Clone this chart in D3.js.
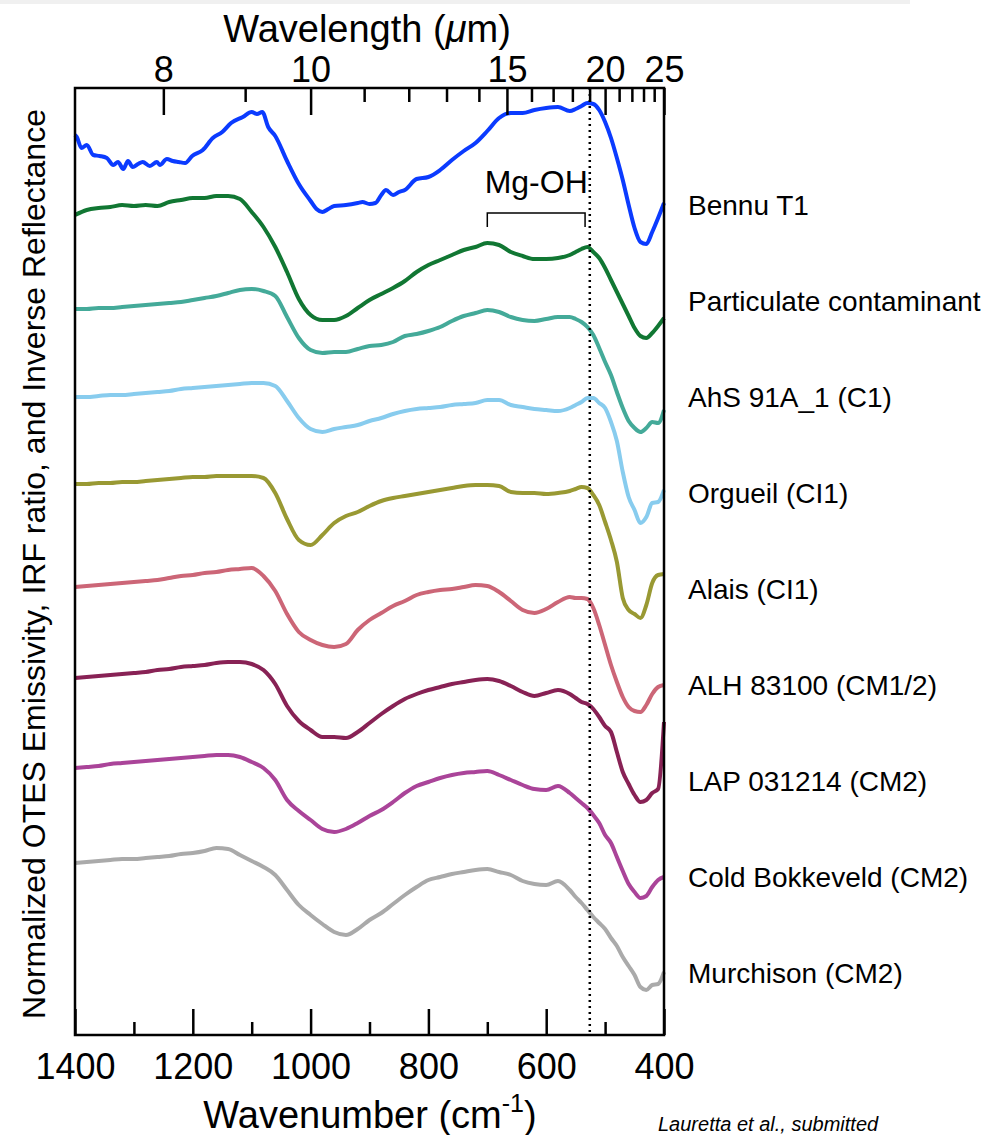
<!DOCTYPE html>
<html>
<head>
<meta charset="utf-8">
<script src="https://cdn.jsdelivr.net/npm/d3@7"></script>
<style>
  body { margin: 0; background: #fff; }
  text { font-family: "Liberation Sans", Arial, Helvetica, sans-serif; fill: #000; }
</style>
</head>
<body>
<div id="chart"></div>
<script>
// wavenumber sample points (cm-1) for the lab spectra
const wavenumber = [1400,1380,1360,1340,1320,1300,1280,1260,1240,1220,
  1200,1180,1160,1140,1120,1100,1080,1060,1040,1020,
  1000,980,960,940,920,900,880,860,840,820,
  800,780,760,740,720,700,680,660,640,620,
  600,580,560,
  550,540,530,520,510,500,490,480,470,460,450,440,430,420,410,400];

// Bennu is noisier, so it gets its own denser sampling
const bennuWavenumber = [1400,1397,1389,1380,1369,1358,1346,1335,1327,1318,
  1310,1302,1293,1285,1273,1261,1256,1244,1234,1224,
  1213,1201,1183,1166,1150,1135,1115,1100,1091,1082,
  1072,1060,1040,1020,1000,990,980,970,960,940,
  920,912,900,890,880,872,860,850,840,820,
  800,780,760,740,720,700,680,660,640,620,
  600,580,560,550,540,530,520,510,500,490,
  480,470,460,450,440,430,420,410,400];
const bennuT1 = [9.00,8.98,8.87,8.90,8.80,8.79,8.77,8.70,8.73,8.66,
  8.74,8.68,8.71,8.73,8.69,8.73,8.70,8.76,8.74,8.73,
  8.72,8.79,8.85,8.97,9.03,9.12,9.18,9.23,9.21,9.23,
  9.08,8.99,8.74,8.51,8.34,8.26,8.23,8.26,8.29,8.30,
  8.32,8.33,8.31,8.32,8.40,8.45,8.40,8.43,8.45,8.56,
  8.58,8.65,8.75,8.84,8.92,9.04,9.17,9.22,9.22,9.25,
  9.27,9.28,9.24,9.26,9.29,9.32,9.31,9.25,9.13,8.97,
  8.77,8.55,8.30,8.07,7.93,7.91,8.03,8.17,8.32];

const names = ['Bennu T1', 'Particulate contaminant', 'AhS 91A_1 (C1)', 'Orgueil (CI1)',
  'Alais (CI1)', 'ALH 83100 (CM1/2)', 'LAP 031214 (CM2)', 'Cold Bokkeveld (CM2)', 'Murchison (CM2)'];
const colors = ['#0b3bff', '#117733', '#44aa99', '#88ccee', '#999933', '#cc6677', '#882255', '#aa4499', '#aaaaaa'];

// offset spectra (arbitrary stacked units)
const particulate = [8.20,8.25,8.27,8.28,8.30,8.29,8.30,8.29,8.33,8.35,
  8.37,8.37,8.39,8.39,8.36,8.23,8.08,7.88,7.63,7.36,
  7.20,7.15,7.15,7.19,7.27,7.35,7.41,7.47,7.54,7.63,
  7.70,7.75,7.80,7.85,7.88,7.92,7.90,7.83,7.79,7.76,
  7.76,7.77,7.80,
  7.83,7.86,7.88,7.83,7.77,7.67,7.55,7.43,7.31,7.19,7.07,6.99,6.97,7.02,7.09,7.17];
const ahs91a = [7.26,7.26,7.27,7.27,7.28,7.29,7.30,7.31,7.32,7.33,
  7.35,7.37,7.39,7.42,7.45,7.46,7.44,7.39,7.18,6.97,
  6.85,6.82,6.83,6.83,6.86,6.89,6.90,6.93,6.99,7.01,
  7.04,7.08,7.14,7.19,7.22,7.25,7.23,7.18,7.15,7.14,
  7.16,7.18,7.18,
  7.16,7.13,7.08,7.00,6.87,6.73,6.60,6.43,6.27,6.14,6.07,6.03,6.07,6.13,6.12,6.25];
const orgueil = [6.38,6.38,6.39,6.40,6.40,6.41,6.42,6.43,6.44,6.46,
  6.47,6.48,6.49,6.50,6.51,6.52,6.52,6.49,6.34,6.17,
  6.06,6.03,6.06,6.08,6.10,6.14,6.17,6.21,6.24,6.26,
  6.27,6.28,6.30,6.31,6.32,6.35,6.35,6.30,6.28,6.26,
  6.25,6.24,6.27,
  6.30,6.33,6.37,6.37,6.32,6.27,6.13,5.94,5.63,5.38,5.25,5.12,5.18,5.32,5.33,5.45];
const alais = [5.51,5.51,5.52,5.52,5.53,5.53,5.54,5.55,5.56,5.57,
  5.58,5.58,5.59,5.59,5.59,5.59,5.57,5.42,5.16,4.95,
  4.90,5.00,5.12,5.19,5.23,5.29,5.34,5.37,5.39,5.41,
  5.43,5.45,5.47,5.49,5.50,5.50,5.49,5.43,5.42,5.42,
  5.41,5.42,5.44,
  5.46,5.48,5.47,5.40,5.30,5.13,4.95,4.73,4.37,4.25,4.21,4.17,4.30,4.52,4.60,4.61];
const alh83100 = [4.48,4.49,4.50,4.51,4.52,4.53,4.54,4.55,4.57,4.59,
  4.60,4.62,4.63,4.65,4.66,4.67,4.59,4.44,4.21,4.03,
  3.95,3.90,3.88,3.91,4.05,4.15,4.22,4.29,4.34,4.40,
  4.43,4.45,4.46,4.48,4.50,4.49,4.43,4.34,4.25,4.22,
  4.26,4.33,4.38,
  4.37,4.37,4.36,4.27,4.10,3.90,3.70,3.53,3.38,3.28,3.24,3.23,3.30,3.41,3.48,3.50];
const lap031214 = [3.57,3.58,3.59,3.60,3.61,3.62,3.63,3.65,3.66,3.68,
  3.69,3.70,3.72,3.73,3.73,3.71,3.65,3.51,3.29,3.14,
  3.05,2.98,2.98,2.97,3.03,3.12,3.21,3.29,3.36,3.41,
  3.45,3.48,3.51,3.53,3.55,3.56,3.54,3.49,3.43,3.39,
  3.42,3.45,3.41,
  3.37,3.33,3.31,3.26,3.18,3.09,3.03,2.83,2.63,2.51,2.40,2.33,2.35,2.42,2.46,3.13];
const coldBokkeveld = [2.67,2.68,2.69,2.71,2.72,2.73,2.74,2.75,2.76,2.77,
  2.78,2.79,2.80,2.80,2.78,2.73,2.67,2.55,2.35,2.24,
  2.15,2.06,2.03,2.06,2.12,2.19,2.25,2.33,2.42,2.49,
  2.53,2.57,2.60,2.62,2.63,2.64,2.60,2.55,2.50,2.46,
  2.45,2.49,2.42,
  2.37,2.32,2.27,2.20,2.12,2.00,1.92,1.78,1.64,1.51,1.43,1.37,1.39,1.48,1.55,1.58];
const murchison = [1.72,1.73,1.74,1.75,1.76,1.76,1.77,1.78,1.79,1.81,
  1.82,1.84,1.87,1.86,1.80,1.74,1.68,1.60,1.45,1.30,
  1.20,1.11,1.03,1.00,1.06,1.15,1.22,1.31,1.40,1.48,
  1.55,1.58,1.61,1.63,1.65,1.66,1.63,1.60,1.54,1.51,
  1.50,1.54,1.45,
  1.38,1.32,1.25,1.18,1.12,1.06,0.97,0.89,0.78,0.69,0.60,0.48,0.45,0.50,0.51,0.63];

const labLines = [particulate, ahs91a, orgueil, alais, alh83100, lap031214, coldBokkeveld, murchison];
const labelLevels = [8.20, 7.24, 6.28, 5.32, 4.36, 3.40, 2.44, 1.48, 0.52];

const wnMajor = [1400, 1200, 1000, 800, 600, 400];
const wnMinor = [1300, 1100, 900, 700, 500];
const wlMajor = [8, 10, 15, 20, 25];
const wlMinor = [9, 11, 12, 13, 14, 16, 17, 18, 19, 21, 22, 23, 24];

const mgOHLine = 526;          // 19 um
const mgOHRange = [700, 534];
const mgOHLevel = 8.22;

const W = 993, H = 1135;
const svg = d3.select('#chart').append('svg').attr('width', W).attr('height', H);

const x = d3.scaleLinear().domain([1400, 400]).range([75, 664]);
const y = d3.scaleLinear().domain([0, 9.47]).range([1035, 88]);

svg.append('rect').attr('x', 0).attr('y', 0).attr('width', 910).attr('height', 4).attr('fill', '#f0f0f0');

// spectra
const labLine = d3.line()
  .x((d, i) => x(wavenumber[i]))
  .y(d => y(d))
  .curve(d3.curveMonotoneX);
const bennuLine = d3.line()
  .x((d, i) => x(bennuWavenumber[i]))
  .y(d => y(d))
  .curve(d3.curveMonotoneX);

svg.append('g').selectAll('path')
  .data(labLines)
  .enter()
  .append('path')
  .attr('d', d => labLine(d))
  .attr('fill', 'none')
  .attr('stroke', (d, i) => colors[i + 1])
  .attr('stroke-width', 4)
  .attr('stroke-linejoin', 'round');

svg.append('path')
  .attr('d', bennuLine(bennuT1))
  .attr('fill', 'none')
  .attr('stroke', colors[0])
  .attr('stroke-width', 4)
  .attr('stroke-linejoin', 'round');

// dotted marker line
svg.append('line')
  .attr('x1', x(mgOHLine)).attr('x2', x(mgOHLine))
  .attr('y1', y(9.47)).attr('y2', y(0))
  .attr('stroke', '#000').attr('stroke-width', 2.5)
  .attr('stroke-dasharray', '2,4');

// Mg-OH bracket
const yb = y(mgOHLevel);
svg.append('path')
  .attr('d', `M${x(mgOHRange[0])},${yb + 14}V${yb}H${x(mgOHRange[1])}V${yb + 14}`)
  .attr('fill', 'none').attr('stroke', '#000').attr('stroke-width', 1.5);
svg.append('text')
  .attr('x', (x(mgOHRange[0]) + x(mgOHRange[1])) / 2)
  .attr('y', yb - 20)
  .attr('text-anchor', 'middle')
  .attr('font-size', 32)
  .text('Mg-OH');

// axes
function styleAxis(g) {
  g.select('.domain').remove();
  g.selectAll('.tick line').attr('stroke', '#000').attr('stroke-width', 2.5);
  g.selectAll('.tick text').attr('font-size', 36).attr('font-family', '"Liberation Sans", Arial, sans-serif');
}

svg.append('g')
  .attr('transform', 'translate(0,1035)')
  .call(d3.axisBottom(x).tickValues(wnMajor).tickSizeInner(-26).tickSizeOuter(0).tickPadding(18).tickFormat(d3.format('d')))
  .call(styleAxis);
svg.append('g')
  .attr('transform', 'translate(0,1035)')
  .call(d3.axisBottom(x).tickValues(wnMinor).tickSizeInner(-13).tickSizeOuter(0).tickFormat(''))
  .call(styleAxis);

svg.append('g')
  .attr('transform', 'translate(0,88)')
  .call(d3.axisTop(x).tickValues(wlMajor.map(l => 1e4 / l)).tickSizeInner(-27).tickSizeOuter(0).tickPadding(6)
    .tickFormat(d => d3.format('d')(Math.round(1e4 / d))))
  .call(styleAxis);
svg.append('g')
  .attr('transform', 'translate(0,88)')
  .call(d3.axisTop(x).tickValues(wlMinor.map(l => 1e4 / l)).tickSizeInner(-14).tickSizeOuter(0).tickFormat(''))
  .call(styleAxis);

// frame
svg.append('rect')
  .attr('x', x(1400)).attr('y', y(9.47))
  .attr('width', x(400) - x(1400)).attr('height', y(0) - y(9.47))
  .attr('fill', 'none').attr('stroke', '#000').attr('stroke-width', 2.5);

// series labels
svg.append('g').selectAll('text')
  .data(names)
  .enter()
  .append('text')
  .attr('x', 688)
  .attr('y', (d, i) => y(labelLevels[i]))
  .attr('font-size', 28)
  .text(d => d);

// titles
const topTitle = svg.append('text')
  .attr('x', 367).attr('y', 42)
  .attr('text-anchor', 'middle')
  .attr('font-size', 38);
topTitle.append('tspan').text('Wavelength (');
topTitle.append('tspan').attr('font-style', 'italic').text('\u03bc');
topTitle.append('tspan').text('m)');

const bottomTitle = svg.append('text')
  .attr('x', 370).attr('y', 1128)
  .attr('text-anchor', 'middle')
  .attr('font-size', 38);
bottomTitle.append('tspan').text('Wavenumber (cm');
bottomTitle.append('tspan').attr('font-size', 25).attr('dy', -16).text('-1');
bottomTitle.append('tspan').attr('dy', 16).text(')');

svg.append('text')
  .attr('transform', 'translate(45,564) rotate(-90)')
  .attr('text-anchor', 'middle')
  .attr('font-size', 32)
  .text('Normalized OTES Emissivity, IRF ratio, and Inverse Reflectance');

svg.append('text')
  .attr('x', 658).attr('y', 1131)
  .attr('font-size', 20)
  .attr('font-style', 'italic')
  .text('Lauretta et al., submitted');
</script>
</body>
</html>
